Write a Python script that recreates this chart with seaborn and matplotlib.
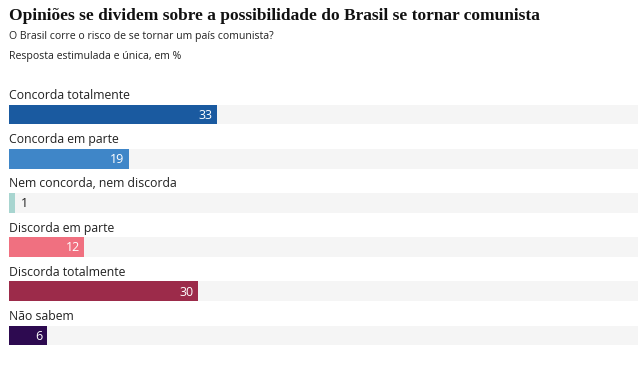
import matplotlib
matplotlib.use("Agg")
import matplotlib.pyplot as plt
import seaborn as sns
import pandas as pd

categories = ["Concorda totalmente", "Concorda em parte", "Nem concorda, nem discorda",
              "Discorda em parte", "Discorda totalmente", "Não sabem"]
values = [33, 19, 1, 12, 30, 6]
colors = ["#1a5aa0", "#3f86c8", "#a8d5d0", "#f07080", "#9c2b4a", "#2d0a50"]
title = "Opiniões se dividem sobre a possibilidade do Brasil se tornar comunista"
subtitle1 = "O Brasil corre o risco de se tornar um país comunista?"
subtitle2 = "Resposta estimulada e única, em %"

sns.set_theme(style="white")
plt.rcParams['font.family'] = ['Open Sans', 'DejaVu Sans']

df = pd.DataFrame({"cat": categories, "val": values, "full": [100] * len(values)})

fig = plt.figure(figsize=(6.44, 3.65), dpi=100)
ax = fig.add_axes([9 / 644, 7 / 365, (638 - 9) / 644, (358 - 92) / 365])

sns.barplot(data=df, y="cat", x="full", color="#f5f5f5", width=0.45, ax=ax,
            saturation=1, orient="h", linewidth=0)
sns.barplot(data=df, y="cat", x="val", hue="cat", palette=colors, width=0.45,
            ax=ax, saturation=1, legend=False, orient="h", linewidth=0)

ax.set_xlim(0, 100)
ax.set_ylim(5.51, -0.51)
ax.set_xlabel("")
ax.set_ylabel("")
ax.set_xticks([])
ax.set_yticks([])
for s in ax.spines.values():
    s.set_visible(False)

for i, (c, v) in enumerate(zip(categories, values)):
    ax.text(0, i - 0.43, c, ha="left", va="center", fontsize=8.8, color="#222222")
    if v >= 4:
        ax.text(v - 0.7, i + 0.02, str(v), ha="right", va="center", fontsize=9,
                color="white")
    else:
        ax.text(v + 0.9, i + 0.02, str(v), ha="left", va="center", fontsize=9,
                color="#222222")

fig.text(9 / 644, 1 - 16 / 365, title, ha="left", va="center", fontsize=12.5,
         fontweight="bold", family=["Liberation Serif", "DejaVu Serif"], color="#111111")
fig.text(9 / 644, 1 - 37 / 365, subtitle1, ha="left", va="center", fontsize=7.6,
         color="#222222")
fig.text(9 / 644, 1 - 57 / 365, subtitle2, ha="left", va="center", fontsize=7.6,
         color="#222222")

fig.savefig("out.png", dpi=100, facecolor="white")
